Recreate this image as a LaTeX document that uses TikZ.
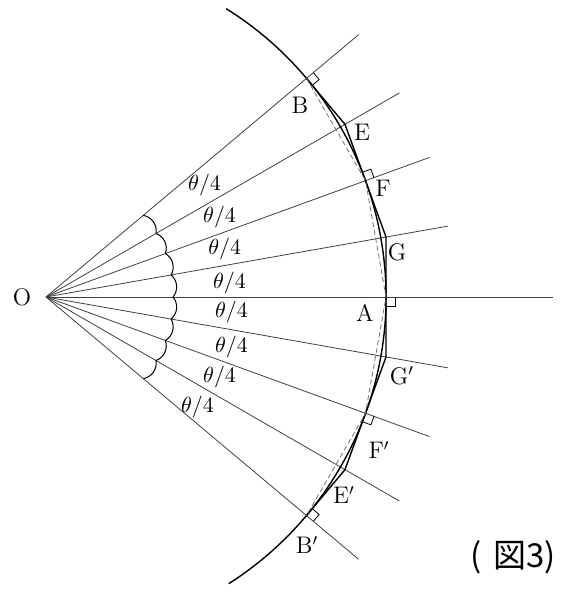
\documentclass[tikz,border=0pt]{standalone}
\usepackage{fontspec}
\newfontfamily\jpfont{Noto Sans CJK JP}
\usetikzlibrary{calc}

\begin{document}
\begin{tikzpicture}[x=0.5pt, y=0.5pt,
    ray/.style={draw=black!75, line width=0.4pt},
    curve/.style={draw=black, line width=0.7pt},
    chord/.style={draw=black!55, line width=0.4pt, dash pattern=on 2.5pt off 1.5pt},
    rangle/.style={draw=black, line width=0.4pt},
    scallop/.style={draw=black, line width=0.5pt},
    ptlabel/.style={font=\fontsize{12}{14}\selectfont, inner sep=0pt},
    anglabel/.style={font=\fontsize{10.5}{12}\selectfont, inner sep=0pt}
]
\useasboundingbox (-46,-295) rectangle (517,297);

% points on the circle and tangent corners
\coordinate (O) at (0,0);
\coordinate (B) at (40:340);
\coordinate (E) at (30:345.25);
\coordinate (F) at (20:340);
\coordinate (G) at (10:345.25);
\coordinate (A) at (0:340);
\coordinate (Gp) at (-10:345.25);
\coordinate (Fp) at (-20:340);
\coordinate (Ep) at (-30:345.25);
\coordinate (Bp) at (-40:340);

% rays from O
\foreach \a in {40,30,20,10,-10,-20,-30,-40}
    \draw[ray] (O) -- (\a:408);
\draw[ray] (O) -- (507,0);

% angle marks at O
\foreach \a in {40,30,...,-30}
    \draw[scallop] (\a:127) to[bend left=45] (\a-10:127);

% arc, tangent polygon and chords
\draw[curve] (58:340) arc[start angle=58, end angle=-57.5, radius=170pt];
\draw[curve] (B) -- (E) -- (F) -- (G) -- (A) -- (Gp) -- (Fp) -- (Ep) -- (Bp);
\draw[chord] (B) -- (F) -- (A) -- (Fp) -- (Bp);

% right angles
\draw[rangle] (B) ++(40:9) -- ++(-50:9) -- ++(220:9);
\draw[rangle] (F) ++(20:9) -- ++(110:9) -- ++(200:9);
\draw[rangle] (A) ++(0:9) -- ++(-90:9) -- ++(180:9);
\draw[rangle] (Fp) ++(-20:9) -- ++(-110:9) -- ++(160:9);
\draw[rangle] (Bp) ++(-40:9) -- ++(50:9) -- ++(140:9);

% point labels
\node[ptlabel] (lO) at (-24,0) {O};
\node[ptlabel] (lB) at (254,192) {B};
\node[ptlabel] (lE) at (316,165) {E};
\node[ptlabel] (lF) at (337,109) {F};
\node[ptlabel] (lG) at (351,45) {G};
\node[ptlabel] (lA) at (319,-16) {A};
\node[ptlabel] (lGp) at (356,-79) {G$'$};
\node[ptlabel] (lFp) at (333,-153) {F$'$};
\node[ptlabel] (lEp) at (298,-198) {E$'$};
\node[ptlabel] (lBp) at (261,-248) {B$'$};

% angle labels
\node[anglabel] (t1) at (35.2:194) {$\theta/4$};
\node[anglabel] (t2) at (24.7:191) {$\theta/4$};
\node[anglabel] (t3) at (15:185) {$\theta/4$};
\node[anglabel] (t4) at (4.4:184) {$\theta/4$};
\node[anglabel] (t5) at (-4.6:186) {$\theta/4$};
\node[anglabel] (t6) at (-15:192) {$\theta/4$};
\node[anglabel] (t7) at (-24.7:191) {$\theta/4$};
\node[anglabel] (t8) at (-35.9:187) {$\theta/4$};

\node[font=\jpfont\fontsize{16.5}{19}\selectfont, anchor=west, inner sep=0pt] (fig) at (424,-260) {(\hspace{6pt}図3)};
\end{tikzpicture}
\end{document}
